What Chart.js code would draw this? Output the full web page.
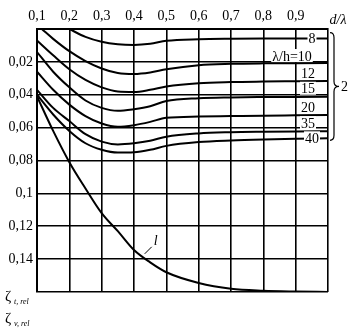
<!DOCTYPE html>
<html>
<head>
<meta charset="utf-8">
<script src="https://cdn.jsdelivr.net/npm/chart.js@4.4.1/dist/chart.umd.min.js"></script>
<style>
  html, body { margin: 0; padding: 0; background: #fff; }
  #wrap { width: 363px; height: 328px; }
</style>
</head>
<body>
<div id="wrap"><canvas id="myChart" width="363" height="328"></canvas></div>
<script>
// abscissa d/λ
const dGrid = [0.1, 0.15, 0.2, 0.25, 0.3, 0.35, 0.4, 0.45, 0.5, 0.6, 0.7, 0.8, 0.9, 1.0];
const d8 = [0.2, 0.25, 0.3, 0.35, 0.4, 0.45, 0.5, 0.6, 0.7, 0.8, 0.9, 1.0];
const d10 = [0.115, 0.15, 0.2, 0.25, 0.3, 0.35, 0.4, 0.45, 0.5, 0.6, 0.7, 0.8, 0.9, 1.0];

// curves 2 (λ/h = 8 ... 40)
const curve8 = [0, 0.0048, 0.0078, 0.0093, 0.0097, 0.009, 0.0072, 0.0062, 0.0059, 0.0058, 0.0058, 0.0058];
const curve10 = [0, 0.006, 0.0135, 0.0195, 0.024, 0.0268, 0.0274, 0.0265, 0.0245, 0.022, 0.0212, 0.0209, 0.0208, 0.0207];
const curve12 = [0.007, 0.016, 0.0245, 0.031, 0.0355, 0.038, 0.0383, 0.037, 0.035, 0.033, 0.0323, 0.032, 0.0318, 0.0316];
const curve15 = [0.014, 0.026, 0.0355, 0.0435, 0.048, 0.0498, 0.0488, 0.047, 0.0438, 0.0421, 0.0416, 0.0414, 0.0413, 0.0412];
const curve20 = [0.026, 0.037, 0.046, 0.053, 0.0575, 0.0595, 0.0585, 0.0565, 0.054, 0.0533, 0.053, 0.0527, 0.0525, 0.0523];
const curve35 = [0.037, 0.048, 0.056, 0.064, 0.0685, 0.0702, 0.0695, 0.068, 0.0655, 0.0635, 0.0628, 0.0625, 0.0623, 0.0622];
const curve40 = [0.04, 0.052, 0.062, 0.0695, 0.0735, 0.0752, 0.075, 0.0735, 0.0711, 0.0688, 0.0678, 0.0672, 0.0668, 0.0665];
// curve 1
const curve1 = [0.041, 0.062, 0.081, 0.097, 0.112, 0.123, 0.1345, 0.142, 0.148, 0.1545, 0.158, 0.1592, 0.1597, 0.16];

const curveLabels = ['8', 'λ/h=10', '12', '15', '20', '35', '40'];
const xTicks = [0.1, 0.2, 0.3, 0.4, 0.5, 0.6, 0.7, 0.8, 0.9];
const yTicks = [0.02, 0.04, 0.06, 0.08, 0.1, 0.12, 0.14];

const FONT = "'Liberation Serif', 'DejaVu Serif', serif";

function pts(xs, ys) {
    return xs.map((x, i) => ({ x: x, y: ys[i] }));
}

const series = [
    pts(d8, curve8), pts(d10, curve10), pts(dGrid, curve12), pts(dGrid, curve15),
    pts(dGrid, curve20), pts(dGrid, curve35), pts(dGrid, curve40), pts(dGrid, curve1)
];

function fmt(v) {
    return String(parseFloat(v.toFixed(2))).replace('.', ',');
}

// подписи кривых, скобка и обозначения осей
const annotations = {
    id: 'annotations',
    afterDatasetsDraw(chart) {
        const ctx = chart.ctx;
        const xs = chart.scales.x, ys = chart.scales.y;
        ctx.save();
        ctx.fillStyle = '#000';
        ctx.strokeStyle = '#000';
        ctx.textBaseline = 'middle';

        // labels at the right end of curves 2
        const ends = [curve8, curve10, curve12, curve15, curve20, curve35, curve40];
        ctx.font = '14px ' + FONT;
        ends.forEach((arr, i) => {
            const yEnd = ys.getPixelForValue(arr[arr.length - 1]);
            const txt = curveLabels[i];
            let cx, cy;
            if (i === 0 || i === 6) {
                cx = 312; cy = yEnd;
            } else if (i === 1) {
                cx = 292; cy = yEnd - 7;
            } else {
                cx = 308; cy = yEnd - 8;
            }
            const w = ctx.measureText(txt).width;
            ctx.fillStyle = '#fff';
            ctx.fillRect(cx - w / 2 - 1, cy - 7, w + 2, 13);
            ctx.fillStyle = '#000';
            ctx.textAlign = 'center';
            ctx.fillText(txt, cx, cy + 1);
        });

        // curly brace "2"
        const top = ys.getPixelForValue(curve8[curve8.length - 1]) - 6;
        const bot = ys.getPixelForValue(curve40[curve40.length - 1]) + 2;
        const mid = (top + bot) / 2;
        ctx.lineWidth = 1.2;
        ctx.beginPath();
        ctx.moveTo(330, top);
        ctx.quadraticCurveTo(334, top, 334, top + 5);
        ctx.lineTo(334, mid - 5);
        ctx.quadraticCurveTo(334, mid, 339, mid);
        ctx.quadraticCurveTo(334, mid, 334, mid + 5);
        ctx.lineTo(334, bot - 5);
        ctx.quadraticCurveTo(334, bot, 330, bot);
        ctx.stroke();
        ctx.textAlign = 'left';
        ctx.font = '14px ' + FONT;
        ctx.fillText('2', 341, mid + 1);

        // curve 1 label with leader
        const lx = xs.getPixelForValue(0.43);
        const ly = ys.getPixelForValue(0.138);
        ctx.lineWidth = 1;
        ctx.beginPath();
        ctx.moveTo(lx + 1, ly - 2);
        ctx.lineTo(lx + 8, ly - 9);
        ctx.stroke();
        ctx.font = 'italic 14px ' + FONT;
        ctx.fillText('l', lx + 10, ly - 15);

        // d/λ at the end of the top axis
        ctx.font = 'italic 14px ' + FONT;
        ctx.textAlign = 'center';
        ctx.fillText('d/λ', 338, 20);

        // ζ labels under the y axis
        ctx.textAlign = 'left';
        ctx.font = '15px ' + FONT;
        ctx.fillText('ζ', 5, 297);
        ctx.fillText('ζ', 5, 319);
        ctx.font = 'italic 8px ' + FONT;
        ctx.fillText('t, rel', 14, 302);
        ctx.fillText('v, rel', 14, 324);
        ctx.restore();
    }
};

const ctx = document.getElementById('myChart').getContext('2d');
new Chart(ctx, {
    type: 'line',
    data: {
        datasets: series.map(s => ({
            data: s,
            borderColor: '#000',
            borderWidth: 2,
            pointRadius: 0,
            fill: false,
            cubicInterpolationMode: 'monotone'
        }))
    },
    options: {
        responsive: false,
        animation: false,
        events: [],
        layout: { padding: { left: 0, right: 35, top: 0, bottom: 36 } },
        plugins: { legend: { display: false }, tooltip: { enabled: false } },
        scales: {
            x: {
                type: 'linear',
                position: 'top',
                min: 0.1,
                max: 1.0,
                afterFit: s => { s.height = 29; },
                afterBuildTicks: s => { s.ticks = xTicks.concat([1.0]).map(v => ({ value: v })); },
                grid: { color: '#000', lineWidth: 1.6, drawTicks: false },
                border: { color: '#000', width: 2 },
                ticks: {
                    padding: 4,
                    maxRotation: 0,
                    autoSkip: false,
                    color: '#000',
                    font: { family: FONT, size: 14 },
                    callback: v => (v > 0.95 ? '' : fmt(v))
                }
            },
            y: {
                type: 'linear',
                reverse: true,
                min: 0,
                max: 0.16,
                afterFit: s => { s.width = 37; },
                afterBuildTicks: s => { s.ticks = [0].concat(yTicks, [0.16]).map(v => ({ value: v })); },
                grid: { color: '#000', lineWidth: 1.6, drawTicks: false },
                border: { color: '#000', width: 2 },
                ticks: {
                    padding: 4,
                    color: '#000',
                    font: { family: FONT, size: 14 },
                    callback: v => (v === 0 || v > 0.15 ? '' : fmt(v))
                }
            }
        }
    },
    plugins: [annotations]
});
</script>
</body>
</html>
